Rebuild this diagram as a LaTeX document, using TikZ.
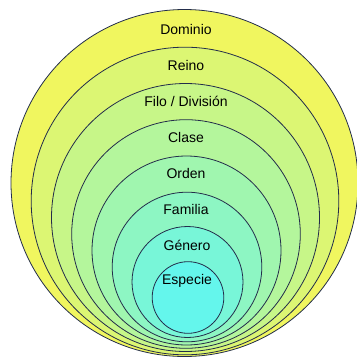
\documentclass[tikz,border=0pt]{standalone}
\usepackage{fontspec}
\setmainfont{Liberation Sans}
\usepackage{xcolor}
\definecolor{amarillo}{RGB}{240,246,95}
\definecolor{cian}{RGB}{100,246,236}
\definecolor{borde}{RGB}{35,45,75}

\begin{document}
\begin{tikzpicture}[x=1pt,y=-1pt,every node/.style={font=\fontsize{14}{16}\selectfont}]
\useasboundingbox (0,0) rectangle (356,361);
\draw[borde,line width=0.8pt,fill=cian!0!amarillo] (184.5,183) circle[radius=173.5];
\node (dominio) at (186,29) {Dominio};
\draw[borde,line width=0.8pt,fill=cian!14!amarillo] (185,201) circle[radius=153.8];
\node (reino) at (186,65) {Reino};
\draw[borde,line width=0.8pt,fill=cian!29!amarillo] (185.5,217.5) circle[radius=134];
\node (filo) at (186,101) {Filo / División};
\draw[borde,line width=0.8pt,fill=cian!43!amarillo] (186,234) circle[radius=114.3];
\node (clase) at (186,137) {Clase};
\draw[borde,line width=0.8pt,fill=cian!57!amarillo] (186.5,250.5) circle[radius=94.5];
\node (orden) at (186,173) {Orden};
\draw[borde,line width=0.8pt,fill=cian!71!amarillo] (187,267) circle[radius=74.8];
\node (familia) at (186,209) {Familia};
\draw[borde,line width=0.8pt,fill=cian!86!amarillo] (187.5,282) circle[radius=55.5];
\node (genero) at (187,245) {Género};
\draw[borde,line width=0.8pt,fill=cian!100!amarillo] (188,297.5) circle[radius=35.8];
\node (especie) at (187,281) {Especie};
\end{tikzpicture}
\end{document}
